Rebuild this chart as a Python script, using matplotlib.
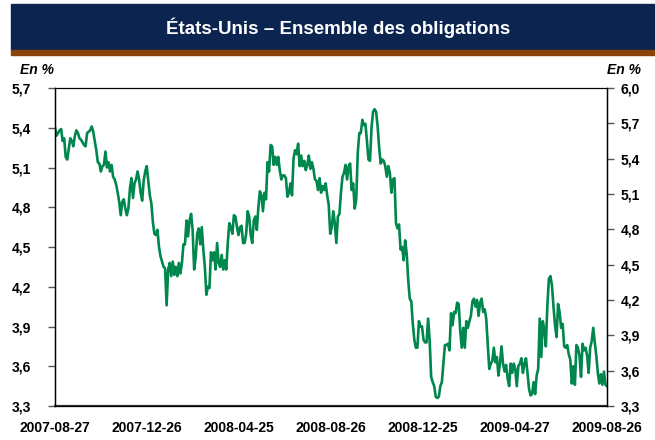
import matplotlib
matplotlib.use("Agg")
import matplotlib.pyplot as plt
from matplotlib.patches import Rectangle
import numpy as np

plt.rcParams['font.family'] = ['Liberation Sans', 'DejaVu Sans']

title = "États-Unis – Ensemble des obligations"
date_labels = ["2007-08-27", "2007-12-26", "2008-04-25", "2008-08-26",
               "2008-12-25", "2009-04-27", "2009-08-26"]
left_ticks = [3.3, 3.6, 3.9, 4.2, 4.5, 4.8, 5.1, 5.4, 5.7]
right_ticks = [3.3, 3.6, 3.9, 4.2, 4.5, 4.8, 5.1, 5.4, 5.7, 6.0]

# rendement (%), environ 1,5 px par point
yields = [
    5.40, 5.34, 5.36, 5.38, 5.39, 5.30, 5.32, 5.18, 5.16, 5.24,
    5.32, 5.30, 5.26, 5.34, 5.38, 5.36, 5.32, 5.31, 5.29, 5.27,
    5.26, 5.36, 5.37, 5.38, 5.41, 5.37, 5.30, 5.23, 5.14, 5.13,
    5.07, 5.11, 5.12, 5.22, 5.10, 5.14, 5.07, 5.12, 5.03, 5.01,
    4.97, 4.91, 4.84, 4.74, 4.84, 4.86, 4.79, 4.74, 4.79, 4.94,
    5.02, 4.87, 4.98, 5.01, 5.07, 5.01, 4.91, 4.85, 5.00, 5.07,
    5.11, 5.00, 4.89, 4.83, 4.69,
    4.60, 4.59, 4.63, 4.50, 4.43, 4.39, 4.35, 4.34, 4.06,
    4.33, 4.38, 4.28, 4.39, 4.29, 4.35, 4.28, 4.38, 4.30, 4.38,
    4.52, 4.52, 4.70, 4.58, 4.70, 4.75, 4.63, 4.33, 4.42, 4.60,
    4.64, 4.52, 4.65, 4.48, 4.35, 4.14, 4.20, 4.19, 4.46, 4.40,
    4.46, 4.33, 4.53, 4.38, 4.35, 4.44, 4.33, 4.40, 4.33, 4.53,
    4.68, 4.65, 4.60, 4.74, 4.73, 4.65, 4.59, 4.65, 4.66, 4.53,
    4.53,
    4.60, 4.77, 4.73, 4.59, 4.53, 4.70, 4.73, 4.63, 4.80, 4.92,
    4.89, 4.77, 4.91, 4.86, 5.14, 5.07, 5.27, 5.26, 5.12, 5.18,
    5.12, 5.18, 5.08, 5.01, 5.04, 5.04, 5.02, 4.88, 4.91, 4.98,
    4.89, 5.17, 5.23, 5.20, 5.28, 5.11, 5.19, 5.11, 5.15, 5.08,
    5.12, 5.19, 5.09, 5.14, 5.09, 5.01, 5.00, 4.93, 5.02, 4.91,
    4.96, 4.93, 4.98, 4.89, 4.82, 4.60, 4.65, 4.77, 4.68, 4.53,
    4.73, 4.75, 4.91, 5.03, 5.06, 5.12, 5.01, 5.11, 5.13, 4.93,
    4.98, 4.79, 4.86, 5.21, 5.36, 5.36, 5.46, 5.42, 5.43, 5.30,
    5.16, 5.15, 5.40, 5.52, 5.54, 5.52, 5.41, 5.25, 5.13, 5.16,
    5.15, 5.11, 5.03, 5.11, 5.06, 4.91, 5.01, 5.02, 4.68, 4.64,
    4.67, 4.48, 4.50, 4.40, 4.55, 4.45, 4.25, 4.11, 4.09,
    3.92, 3.80, 3.74, 3.74, 3.94, 3.90, 3.90, 3.80, 3.78, 3.78,
    3.96, 3.80, 3.52, 3.48, 3.45, 3.37, 3.36, 3.37, 3.45, 3.48,
    3.62, 3.76, 3.76, 3.77, 3.72, 4.00, 3.91, 4.01, 4.00, 4.08,
    4.07, 3.87, 3.74, 3.89, 3.74, 3.94, 3.89, 3.94, 3.98, 4.09,
    4.11, 4.05, 4.10, 3.98, 4.08, 4.11, 4.01, 4.03, 3.96, 3.77,
    3.58, 3.62, 3.64, 3.74, 3.63, 3.67, 3.53, 3.62, 3.75, 3.62,
    3.56, 3.61, 3.51, 3.45, 3.62, 3.55, 3.62, 3.58, 3.45, 3.60,
    3.62, 3.66, 3.55, 3.62, 3.66, 3.55, 3.43, 3.38, 3.39, 3.48,
    3.39, 3.53, 3.58, 3.96, 3.67, 3.94, 3.88, 3.75, 4.06, 4.26,
    4.28, 4.21, 4.05, 3.91, 3.82, 4.07, 4.01, 3.89, 3.92, 3.75,
    3.74, 3.76, 3.69, 3.65, 3.47, 3.60, 3.46, 3.76, 3.74, 3.68,
    3.52, 3.77, 3.72, 3.74, 3.68, 3.55, 3.74, 3.79, 3.89, 3.78,
    3.68, 3.55, 3.47, 3.54, 3.46, 3.56, 3.46, 3.45,
]

fig = plt.figure(figsize=(6.55, 4.40), dpi=100)

# bandeau du titre
fig.patches.append(Rectangle((11 / 655, 1 - 50 / 440), 1, 46 / 440,
                             transform=fig.transFigure, color="#0b2550", zorder=0))
fig.patches.append(Rectangle((11 / 655, 1 - 55 / 440), 1, 5 / 440,
                             transform=fig.transFigure, color="#8a4208", zorder=0))
fig.text(338 / 655, 1 - 28 / 440, title, color="white", fontsize=13.5,
         fontweight="bold", ha="center", va="center")

ax = fig.add_axes([55 / 655, 34 / 440, 552 / 655, 318 / 440])
x = np.arange(len(yields))
ax.plot(x, yields, color="#00874d", lw=1.9)
ax.set_xlim(0, len(yields) - 1)
ax.set_ylim(3.3, 5.7)
ax.set_yticks(left_ticks)
ax.set_yticklabels([f"{t:.1f}".replace(".", ",") for t in left_ticks])
ax.set_xticks(np.linspace(0, len(yields) - 1, len(date_labels)))
ax.set_xticklabels(date_labels)
ax.tick_params(axis="x", length=0, pad=11)
ax.tick_params(axis="y", length=5, width=1, color="#555555", pad=12)
for lab in ax.get_xticklabels() + ax.get_yticklabels():
    lab.set_fontweight("bold")
    lab.set_fontsize(10)
ax.spines["top"].set_linewidth(0.8)
ax.spines["bottom"].set_linewidth(1.6)
ax.spines["bottom"].set_color("#333333")
ax.spines["left"].set_linewidth(1.0)

ax2 = ax.twinx()
ax2.set_ylim(3.3, 6.0)
ax2.set_yticks(right_ticks)
ax2.set_yticklabels([f"{t:.1f}".replace(".", ",") for t in right_ticks])
ax2.tick_params(axis="y", length=5, width=1, color="#555555", pad=5)
for lab in ax2.get_yticklabels():
    lab.set_fontweight("bold")
    lab.set_fontsize(10)
ax2.spines["right"].set_linewidth(1.0)

fig.text(20 / 655, 1 - 70 / 440, "En %", fontsize=10, fontweight="bold",
         style="italic", va="center", ha="left")
fig.text(641 / 655, 1 - 70 / 440, "En %", fontsize=10, fontweight="bold",
         style="italic", va="center", ha="right")

fig.savefig("out.png", dpi=100)
